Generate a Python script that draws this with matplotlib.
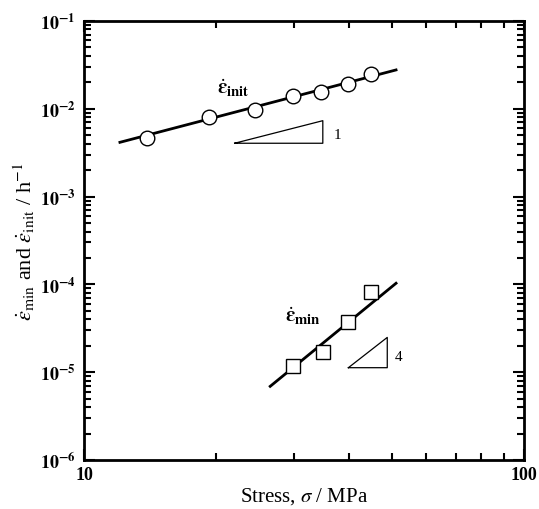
import numpy as np
import matplotlib
matplotlib.use('Agg')
import matplotlib.pyplot as plt

plt.rcParams['font.family'] = ['Liberation Serif', 'DejaVu Serif']
plt.rcParams['mathtext.fontset'] = 'stix'

# data
stress_init = [13.9, 19.2, 24.5, 29.8, 34.6, 39.9, 44.9]
rate_init = [4.7e-3, 8.0e-3, 9.7e-3, 1.40e-2, 1.55e-2, 1.90e-2, 2.49e-2]
stress_min = [29.9, 34.9, 39.9, 44.8]
rate_min = [1.19e-5, 1.70e-5, 3.76e-5, 8.13e-5]

fit_init_x = [12.07, 51.2]
fit_init_y = [4.15e-3, 2.77e-2]
fit_min_x = [26.5, 51.2]
fit_min_y = [6.9e-6, 1.03e-4]

tri_init_x = [22.0, 34.9, 34.9, 22.0]
tri_init_y = [4.05e-3, 4.05e-3, 7.32e-3, 4.05e-3]
tri_min_x = [39.9, 48.9, 48.9, 39.9]
tri_min_y = [1.125e-5, 1.125e-5, 2.49e-5, 1.125e-5]

yticks = [1e-6, 1e-5, 1e-4, 1e-3, 1e-2, 1e-1]
ytick_labels = [r'$\mathbf{10^{-6}}$', r'$\mathbf{10^{-5}}$', r'$\mathbf{10^{-4}}$',
                r'$\mathbf{10^{-3}}$', r'$\mathbf{10^{-2}}$', r'$\mathbf{10^{-1}}$']
xticks = [10, 100]
xtick_labels = ['10', '100']

fig = plt.figure(figsize=(5.39, 5.10), dpi=100)
ax = fig.add_axes([0.1558, 0.0961, 0.8163, 0.8608])
ax.set_xscale('log')
ax.set_yscale('log')

ax.plot(fit_init_x, fit_init_y, color='black', lw=2)
ax.plot(fit_min_x, fit_min_y, color='black', lw=2)
ax.plot(stress_init, rate_init, 'o', ms=10.5, mfc='white', mec='black', mew=1.0)
ax.plot(stress_min, rate_min, 's', ms=10.5, mfc='white', mec='black', mew=1.0)

ax.plot(tri_init_x, tri_init_y, color='black', lw=0.9)
ax.plot(tri_min_x, tri_min_y, color='black', lw=0.9)

ax.text(36.9, 5.16e-3, '1', fontsize=11, va='center', ha='left')
ax.text(50.8, 1.52e-5, '4', fontsize=11, va='center', ha='left')
ax.text(21.8, 1.76e-2, r'$\dot{\boldsymbol{\varepsilon}}_{\mathbf{init}}$', fontsize=15,
        ha='center', va='center')
ax.text(31.5, 4.4e-5, r'$\dot{\boldsymbol{\varepsilon}}_{\mathbf{min}}$', fontsize=15,
        ha='center', va='center')

ax.set_xlim(10, 100)
ax.set_ylim(1e-6, 1e-1)
ax.set_xticks(xticks)
ax.set_xticklabels(xtick_labels, fontweight='bold', fontsize=13)
ax.set_yticks(yticks)
ax.set_yticklabels(ytick_labels, fontsize=13)
ax.tick_params(which='both', direction='in', top=True, right=True, width=1.5)
ax.tick_params(which='major', length=8, pad=6)
ax.tick_params(which='minor', length=5)
ax.tick_params(axis='x', which='major', pad=4)
ax.yaxis.set_minor_formatter(matplotlib.ticker.NullFormatter())
ax.xaxis.set_minor_formatter(matplotlib.ticker.NullFormatter())
for s in ax.spines.values():
    s.set_linewidth(2)

ax.set_xlabel(r'Stress, $\sigma$ / MPa', fontsize=15, labelpad=2)
ax.set_ylabel(r'$\dot{\varepsilon}_{\rm min}$ and $\dot{\varepsilon}_{\rm init}$ / h$^{-1}$',
              fontsize=16, labelpad=2)

fig.savefig('out.png', dpi=100)
